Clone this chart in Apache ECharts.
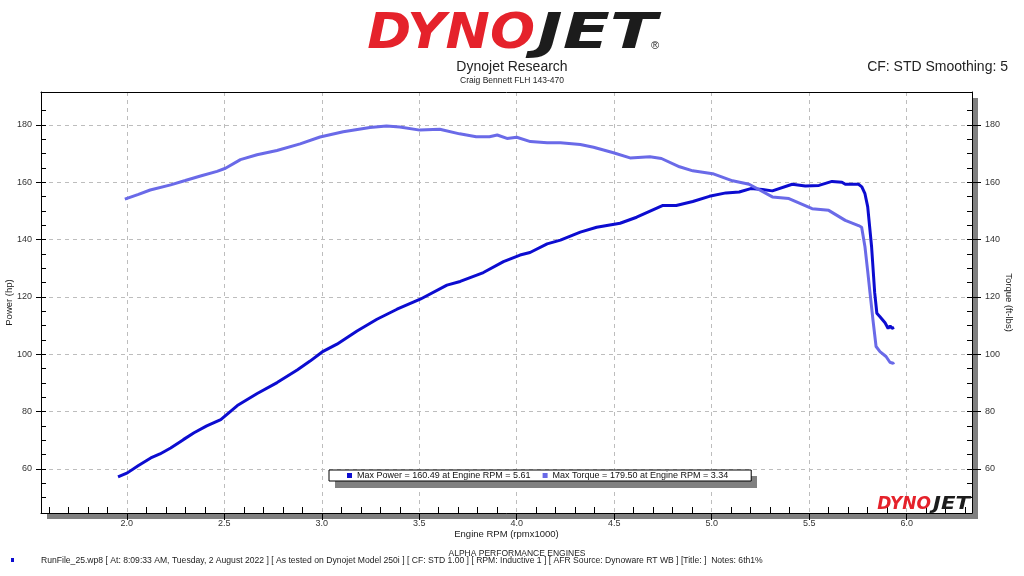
<!DOCTYPE html>
<html>
<head>
<meta charset="utf-8">
<script src="https://cdn.jsdelivr.net/npm/echarts@6.0.0/dist/echarts.min.js"></script>
<style>
html,body{margin:0;padding:0;background:#fff}
#chart{width:1024px;height:576px}
</style>
</head>
<body>
<div id="chart"></div>
<script>
// power run
const powerRpm = [1.955, 2.003, 2.06, 2.123, 2.17, 2.225, 2.29, 2.345, 2.41, 2.482, 2.567, 2.669, 2.771, 2.874, 2.94, 3.002,
  3.078, 3.181, 3.283, 3.386, 3.505, 3.642, 3.71, 3.829, 3.932, 4.017, 4.068, 4.156, 4.224, 4.326, 4.41, 4.53, 4.615, 4.75,
  4.818, 4.903, 4.988, 5.073, 5.141, 5.2, 5.26, 5.311, 5.413, 5.48, 5.55, 5.617, 5.668, 5.685, 5.753, 5.77, 5.786, 5.80,
  5.82, 5.836, 5.847, 5.863, 5.889, 5.905, 5.915, 5.925, 5.935];
const powerHp = [57.2, 58.6, 61.2, 63.8, 65.2, 67.3, 70.2, 72.6, 75.0, 77.2, 82.1, 86.3, 90.1, 94.5, 97.6, 100.8,
  103.5, 108.1, 112.2, 115.7, 119.2, 124.1, 125.4, 128.5, 132.3, 134.6, 135.5, 138.5, 139.8, 142.6, 144.3, 145.7, 147.8, 151.9,
  151.9, 153.3, 155.1, 156.3, 156.6, 157.8, 157.5, 157.0, 159.3, 158.7, 158.9, 160.3, 160.0, 159.3, 159.3, 158.4, 156.0, 151.5,
  137.5, 121.4, 114.3, 113.1, 111.0, 109.0, 109.9, 109.0, 109.4];

const torqueRpm = [1.99, 2.06, 2.12, 2.225, 2.30, 2.378, 2.463, 2.506, 2.583, 2.668, 2.77, 2.889, 2.991, 3.11, 3.247, 3.332,
  3.40, 3.503, 3.605, 3.707, 3.792, 3.86, 3.90, 3.95, 4.0, 4.07, 4.156, 4.224, 4.326, 4.394, 4.496, 4.581, 4.683, 4.742,
  4.835, 4.903, 5.005, 5.107, 5.192, 5.311, 5.396, 5.515, 5.6, 5.685, 5.753, 5.769, 5.786, 5.80, 5.812, 5.827, 5.843,
  5.863, 5.894, 5.914, 5.93, 5.935];
const torqueLb = [154.1, 155.8, 157.3, 159.1, 160.6, 162.2, 163.8, 164.9, 167.9, 169.6, 171.1, 173.4, 175.8, 177.6, 179.1, 179.6,
  179.3, 178.2, 178.5, 176.9, 175.9, 175.9, 176.5, 175.3, 175.7, 174.2, 173.8, 173.8, 173.2, 172.2, 170.3, 168.5, 168.9, 168.3,
  165.4, 164.0, 163.0, 160.5, 159.3, 154.9, 154.3, 150.8, 150.2, 146.7, 144.9, 144.3, 137.5, 129.0, 121.4, 112.0, 102.7,
  100.9, 99.2, 97.2, 96.8, 97.2];

// tick labels
const xTickLabels = [2.0, 2.5, 3.0, 3.5, 4.0, 4.5, 5.0, 5.5, 6.0];
const yTickLabels = [60, 80, 100, 120, 140, 160, 180];

const legendText = {
  'Power': 'Max Power = 160.49 at Engine RPM = 5.61',
  'Torque': 'Max Torque = 179.50 at Engine RPM = 3.34'
};
const footerText = 'RunFile_25.wp8 [ At: 8:09:33 AM, Tuesday, 2 August 2022 ] [ As tested on Dynojet Model 250i ] [ CF: STD 1.00 ] [ RPM: Inductive 1 ] [ AFR Source: Dynoware RT WB ] [Title: ]  Notes: 6th1%';

// small ticks: every 0.1 rpm and every 5 units
const xMinor = [];
for (let i = 16; i <= 63; i++) { if (i % 5 !== 0) xMinor.push(i / 10); }
const yMinor = [];
for (let v = 50; v <= 185; v += 5) yMinor.push(v);

const xMin = 1.56, xMax = 6.335, yMin = 44.6, yMax = 191.5;
const FONT = '"Liberation Sans", Arial, sans-serif';
const LOGO = '"DejaVu Sans", sans-serif';
const RED = '#e5222b', BLK = '#1c1c1c', SHADOW = '#808080';
const POWER = '#0c0cd0', TORQUE = '#6a6ae8';

const zip = (a, b) => a.map((x, i) => [x, b[i]]);

let chart = echarts.init(document.getElementById('chart'));

const minorY = (pos) => ({
  type: 'value', min: yMin, max: yMax, position: pos,
  axisLine: { show: false },
  axisTick: { show: true, inside: true, length: 5, customValues: yMinor, lineStyle: { color: '#000' } },
  axisLabel: { show: false },
  splitLine: { show: false }
});

// logo word halves, stretched like the real logo
const logo = (x, y, size, sxDyno, sxJet) => ([
  { type: 'text', z: 100, x: x, y: y, scaleX: sxDyno, style: { text: 'DYNO', textAlign: 'right', textVerticalAlign: 'middle', fill: RED, font: 'italic bold ' + size + 'px ' + LOGO } },
  { type: 'text', z: 100, x: x + 2, y: y, scaleX: sxJet, style: { text: 'JET', textAlign: 'left', textVerticalAlign: 'middle', fill: BLK, font: 'italic bold ' + size + 'px ' + LOGO } }
]);

let option = {
  animation: false,
  backgroundColor: '#fff',
  grid: {
    left: 41, top: 92, right: 52, bottom: 63,
    outerBoundsMode: 'none', containLabel: false,
    // only the fill casts the drop shadow, the frame comes from the axis lines
    show: true, backgroundColor: '#fff', borderWidth: 0,
    shadowColor: SHADOW, shadowBlur: 0, shadowOffsetX: 6, shadowOffsetY: 6
  },
  legend: {
    left: 329, top: 470, z: 20,
    data: ['Power', 'Torque'],
    icon: 'rect', itemWidth: 5, itemHeight: 5, itemGap: 12,
    padding: [1, 23, 1, 18],
    backgroundColor: '#fff', borderColor: '#000', borderWidth: 1,
    textStyle: { fontSize: 9, color: '#111', fontFamily: FONT },
    formatter: name => legendText[name]
  },
  xAxis: [
    {
      type: 'value', min: xMin, max: xMax, position: 'bottom',
      axisLine: { show: true, onZero: false, lineStyle: { color: '#000' } },
      axisTick: { show: true, length: 7, customValues: xTickLabels, lineStyle: { color: '#000' } },
      axisLabel: { customValues: xTickLabels, formatter: v => v.toFixed(1), margin: 6, fontSize: 9, color: '#333', fontFamily: FONT },
      splitLine: { show: true, lineStyle: { color: '#bdbdbd', type: [4, 4] } },
      name: 'Engine RPM (rpmx1000)', nameLocation: 'middle', nameGap: 16, nameMoveOverlap: false,
      nameTextStyle: { fontSize: 9.5, color: '#222', fontFamily: FONT }
    },
    {
      type: 'value', min: xMin, max: xMax, position: 'bottom',
      axisLine: { show: false, onZero: false },
      axisTick: { show: true, inside: true, length: 6, customValues: xMinor, lineStyle: { color: '#000' } },
      axisLabel: { show: false },
      splitLine: { show: false }
    },
    {
      type: 'value', min: xMin, max: xMax, position: 'top',
      axisLine: { show: true, onZero: false, lineStyle: { color: '#000' } },
      axisTick: { show: false }, axisLabel: { show: false }, splitLine: { show: false }
    }
  ],
  yAxis: [
    {
      type: 'value', min: yMin, max: yMax, position: 'left',
      axisLine: { show: true, onZero: false, lineStyle: { color: '#000' } },
      axisTick: { show: true, length: 5, customValues: yTickLabels, lineStyle: { color: '#000' } },
      axisLabel: { customValues: yTickLabels, margin: 9, fontSize: 9, color: '#333', fontFamily: FONT },
      splitLine: { show: true, lineStyle: { color: '#bdbdbd', type: [4, 4] } },
      name: 'Power (hp)', nameLocation: 'middle', nameGap: 27, nameMoveOverlap: false,
      nameTextStyle: { fontSize: 9.5, color: '#222', fontFamily: FONT }
    },
    minorY('left'),
    {
      type: 'value', min: yMin, max: yMax, position: 'right',
      axisLine: { show: true, onZero: false, lineStyle: { color: '#000' } },
      axisTick: { show: true, length: 9, customValues: yTickLabels, lineStyle: { color: '#000' } },
      axisLabel: { customValues: yTickLabels, margin: 13, fontSize: 9, color: '#333', fontFamily: FONT },
      splitLine: { show: false },
      name: 'Torque (ft-lbs)', nameLocation: 'middle', nameGap: 32, nameRotate: -90, nameMoveOverlap: false,
      nameTextStyle: { fontSize: 9.5, color: '#222', fontFamily: FONT }
    },
    minorY('right')
  ],
  series: [
    {
      name: 'Power', type: 'line', xAxisIndex: 0, yAxisIndex: 0,
      data: zip(powerRpm, powerHp), showSymbol: false, symbol: 'none',
      color: POWER, lineStyle: { width: 3, color: POWER }
    },
    {
      name: 'Torque', type: 'line', xAxisIndex: 0, yAxisIndex: 2,
      data: zip(torqueRpm, torqueLb), showSymbol: false, symbol: 'none',
      color: TORQUE, lineStyle: { width: 3, color: TORQUE }
    }
  ],
  graphic: [
    // drop shadow under the legend box
    { type: 'rect', z: 15, shape: { x: 335, y: 476, width: 422, height: 12 }, style: { fill: SHADOW } },
    ...logo(535, 35, 50, 1.06, 1.38),
    { type: 'text', z: 100, style: { text: '®', x: 655, y: 46, textAlign: 'center', textVerticalAlign: 'middle', fill: BLK, font: '11px ' + FONT } },
    { type: 'text', z: 100, style: { text: 'Dynojet Research', x: 512, y: 67, textAlign: 'center', textVerticalAlign: 'middle', fill: '#222', font: '14px ' + FONT } },
    { type: 'text', z: 100, style: { text: 'Craig Bennett FLH 143-470', x: 512, y: 81, textAlign: 'center', textVerticalAlign: 'middle', fill: '#222', font: '8.5px ' + FONT } },
    { type: 'text', z: 100, style: { text: 'CF: STD Smoothing: 5', x: 1008, y: 67, textAlign: 'right', textVerticalAlign: 'middle', fill: '#222', font: '14px ' + FONT } },
    ...logo(931, 505, 17, 1.0, 1.25),
    { type: 'text', z: 100, style: { text: 'ALPHA PERFORMANCE ENGINES', x: 517, y: 554, textAlign: 'center', textVerticalAlign: 'middle', fill: '#222', font: '8.5px ' + FONT } },
    { type: 'rect', z: 100, shape: { x: 11, y: 558, width: 3, height: 4 }, style: { fill: POWER } },
    { type: 'text', z: 100, style: { text: footerText, x: 41, y: 561, textAlign: 'left', textVerticalAlign: 'middle', fill: '#222', font: '8.6px ' + FONT } }
  ]
};

chart.setOption(option);
</script>
</body>
</html>
